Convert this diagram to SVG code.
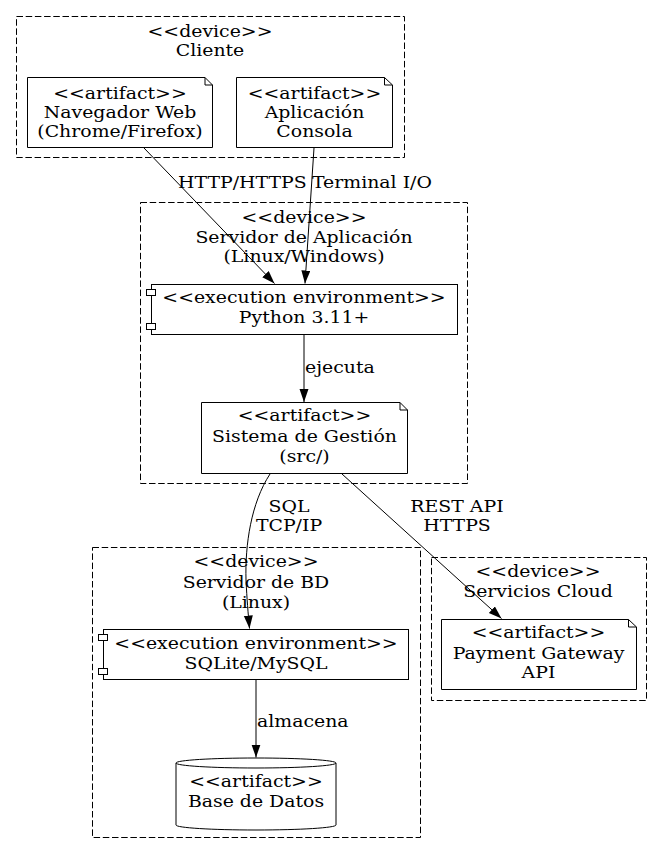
<svg xmlns="http://www.w3.org/2000/svg" width="663" height="854" viewBox="0 0 663 854">
<style>
text{font-family:"DejaVu Serif",serif;font-size:16px;fill:#000;text-anchor:middle}
.cl{fill:none;stroke:#000;stroke-width:1;stroke-dasharray:6.5,2.7}
.bx{fill:#fff;stroke:#000;stroke-width:1}
.e{fill:none;stroke:#000;stroke-width:1}
.lbl{text-anchor:start}
</style>
<defs>
<marker id="ah" markerUnits="userSpaceOnUse" markerWidth="14" markerHeight="10" refX="13" refY="4.5" orient="auto">
<path d="M0,0 L13,4.5 L0,9 Z" fill="#000"/>
</marker>
</defs>
<rect width="663" height="854" fill="#fff"/>
<g id="cluster_cliente">
<rect class="cl" x="16.5" y="16.5" width="388" height="141"/>
<text transform="translate(210 37) scale(1.18 1)">&lt;&lt;device&gt;&gt;</text>
<text transform="translate(210 56) scale(1.18 1)">Cliente</text>
</g>
<g id="cluster_servidor_app">
<rect class="cl" x="140.5" y="202.5" width="327" height="281"/>
<text transform="translate(304 223) scale(1.18 1)">&lt;&lt;device&gt;&gt;</text>
<text transform="translate(304 243) scale(1.18 1)">Servidor de Aplicación</text>
<text transform="translate(304 262) scale(1.18 1)">(Linux/Windows)</text>
</g>
<g id="cluster_servidor_bd">
<rect class="cl" x="92.5" y="547.5" width="328" height="290"/>
<text transform="translate(256 567) scale(1.18 1)">&lt;&lt;device&gt;&gt;</text>
<text transform="translate(256 588) scale(1.18 1)">Servidor de BD</text>
<text transform="translate(256 608) scale(1.18 1)">(Linux)</text>
</g>
<g id="cluster_cloud">
<rect class="cl" x="431.5" y="557.5" width="215" height="143"/>
<text transform="translate(538 577) scale(1.18 1)">&lt;&lt;device&gt;&gt;</text>
<text transform="translate(538 597) scale(1.18 1)">Servicios Cloud</text>
</g>
<g id="navegador">
<path class="bx" d="M27.5,77.5 H205 L212.5,85 V147.5 H27.5 Z M205,77.5 V85 H212.5"/>
<text transform="translate(120 99) scale(1.18 1)">&lt;&lt;artifact&gt;&gt;</text>
<text transform="translate(120 118) scale(1.18 1)">Navegador Web</text>
<text transform="translate(120 137) scale(1.18 1)">(Chrome/Firefox)</text>
</g>
<g id="consola">
<path class="bx" d="M236.5,77.5 H384.5 L392.5,85 V147.5 H236.5 Z M384.5,77.5 V85 H392.5"/>
<text transform="translate(314.5 99) scale(1.18 1)">&lt;&lt;artifact&gt;&gt;</text>
<text transform="translate(314.5 118) scale(1.18 1)">Aplicación</text>
<text transform="translate(314.5 137) scale(1.18 1)">Consola</text>
</g>
<g id="python">
<rect class="bx" x="151.5" y="284.5" width="306" height="50"/>
<rect class="bx" x="146.5" y="289.5" width="9" height="6"/>
<rect class="bx" x="146.5" y="323.5" width="9" height="6"/>
<text transform="translate(304 303) scale(1.18 1)">&lt;&lt;execution environment&gt;&gt;</text>
<text transform="translate(304 323) scale(1.18 1)">Python 3.11+</text>
</g>
<g id="sistema">
<path class="bx" d="M201.5,402.5 H400 L407.5,410 V473.5 H201.5 Z M400,402.5 V410 H407.5"/>
<text transform="translate(304.5 421) scale(1.18 1)">&lt;&lt;artifact&gt;&gt;</text>
<text transform="translate(304.5 442) scale(1.18 1)">Sistema de Gestión</text>
<text transform="translate(304.5 462) scale(1.18 1)">(src/)</text>
</g>
<g id="sqlite">
<rect class="bx" x="103.5" y="629.5" width="305" height="50"/>
<rect class="bx" x="98.5" y="634.5" width="9" height="6"/>
<rect class="bx" x="98.5" y="668.5" width="9" height="6"/>
<text transform="translate(256 649) scale(1.18 1)">&lt;&lt;execution environment&gt;&gt;</text>
<text transform="translate(256 669) scale(1.18 1)">SQLite/MySQL</text>
</g>
<g id="basedatos">
<path class="bx" d="M336,763 C336,765.8 300.2,768 256,768 C211.8,768 176,765.8 176,763 C176,760.2 211.8,758 256,758 C300.2,758 336,760.2 336,763 L336,825 C336,827.8 300.2,830 256,830 C211.8,830 176,827.8 176,825 L176,763"/>
<text transform="translate(256 787) scale(1.18 1)">&lt;&lt;artifact&gt;&gt;</text>
<text transform="translate(256 807) scale(1.18 1)">Base de Datos</text>
</g>
<g id="payment">
<path class="bx" d="M441.5,619.5 H628.5 L636.5,627 V689.5 H441.5 Z M628.5,619.5 V627 H636.5"/>
<text transform="translate(538.5 638) scale(1.18 1)">&lt;&lt;artifact&gt;&gt;</text>
<text transform="translate(538.5 659) scale(1.18 1)">Payment Gateway</text>
<text transform="translate(538.5 678) scale(1.18 1)">API</text>
</g>
<g id="connectors">
<path class="e" d="M144,148 L274.5,283.5" marker-end="url(#ah)"/>
<text class="lbl" transform="translate(178 188) scale(1.18 1)">HTTP/HTTPS</text>
<path class="e" d="M314,148 L305,283.5" marker-end="url(#ah)"/>
<text class="lbl" transform="translate(312 188) scale(1.18 1)">Terminal I/O</text>
<path class="e" d="M304,335 L304,402" marker-end="url(#ah)"/>
<text class="lbl" transform="translate(305 373) scale(1.18 1)">ejecuta</text>
<path class="e" d="M270,474 C251,503 245,545 246,580 C247,600 248,612 249.5,628.5" marker-end="url(#ah)"/>
<text transform="translate(289 512) scale(1.18 1)">SQL</text>
<text transform="translate(289 531) scale(1.18 1)">TCP/IP</text>
<path class="e" d="M342,474 L501.5,618.5" marker-end="url(#ah)"/>
<text transform="translate(457 512) scale(1.18 1)">REST API</text>
<text transform="translate(457 531) scale(1.18 1)">HTTPS</text>
<path class="e" d="M256,680 L256,757.5" marker-end="url(#ah)"/>
<text class="lbl" transform="translate(257 727) scale(1.18 1)">almacena</text>
</g>
</svg>
